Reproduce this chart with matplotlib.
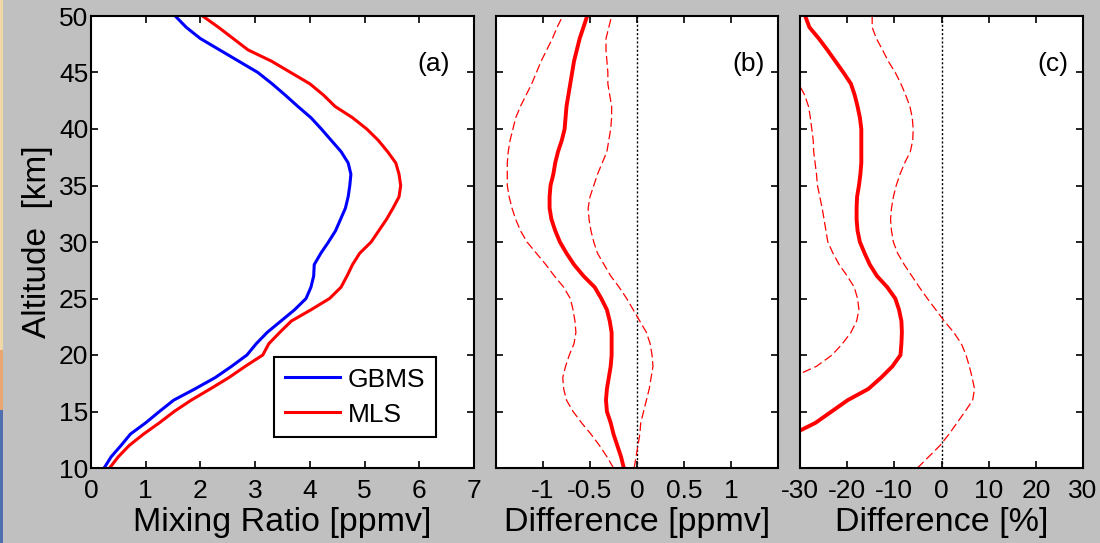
import numpy as np
import matplotlib
matplotlib.use("Agg")
import matplotlib.pyplot as plt
from matplotlib.patches import Rectangle

nan = np.nan
altitude = list(range(10, 51))

gbms = [0.24, 0.37, 0.55, 0.72, 1.00, 1.25, 1.51, 1.90, 2.27, 2.57,
        2.85, 3.02, 3.22, 3.47, 3.72, 3.93, 4.02, 4.07, 4.08, 4.20,
        4.34, 4.47, 4.56, 4.65, 4.70, 4.73, 4.75, 4.70, 4.57, 4.39,
        4.21, 4.02, 3.78, 3.55, 3.31, 3.05, 2.70, 2.35, 2.00, 1.74, 1.54]
mls = [0.34, 0.50, 0.70, 0.96, 1.25, 1.52, 1.83, 2.18, 2.52, 2.82,
       3.14, 3.25, 3.45, 3.66, 4.02, 4.36, 4.57, 4.68, 4.78, 4.91,
       5.12, 5.26, 5.40, 5.52, 5.63, 5.66, 5.63, 5.57, 5.42, 5.25,
       5.04, 4.78, 4.46, 4.25, 4.00, 3.65, 3.30, 2.87, 2.60, 2.33, 2.04]

diff_ppmv = [-0.14, -0.17, -0.21, -0.25, -0.28, -0.32, -0.33, -0.32, -0.30, -0.28,
             -0.27, -0.27, -0.27, -0.29, -0.32, -0.38, -0.45, -0.57, -0.67, -0.75,
             -0.82, -0.87, -0.91, -0.93, -0.93, -0.92, -0.89, -0.87, -0.84, -0.80,
             -0.77, -0.76, -0.75, -0.73, -0.71, -0.69, -0.67, -0.64, -0.61, -0.57, -0.53]
diff_ppmv_lo = [-0.25, -0.32, -0.40, -0.49, -0.59, -0.68, -0.75, -0.78, -0.79, -0.76,
                -0.72, -0.67, -0.65, -0.66, -0.68, -0.71, -0.78, -0.88, -0.97, -1.07,
                -1.17, -1.24, -1.29, -1.33, -1.36, -1.38, -1.38, -1.38, -1.37, -1.35,
                -1.32, -1.29, -1.24, -1.18, -1.12, -1.07, -1.02, -0.96, -0.90, -0.85, -0.79]
diff_ppmv_hi = [-0.03, -0.01, 0.01, 0.03, 0.04, 0.07, 0.10, 0.13, 0.15, 0.17,
                0.16, 0.14, 0.10, 0.03, -0.04, -0.11, -0.19, -0.28, -0.35, -0.42,
                -0.46, -0.49, -0.51, -0.52, -0.50, -0.46, -0.42, -0.37, -0.32, -0.30,
                -0.28, -0.27, -0.27, -0.29, -0.31, -0.31, -0.32, -0.33, -0.33, -0.30, -0.27]

diff_pct = [nan, nan, nan, -31.5, -26.7, -23.3, -19.9, -15.5, -12.8, -10.4,
            -8.7, -8.5, -8.4, -8.5, -9.0, -9.8, -11.5, -13.7, -15.2, -16.3,
            -17.3, -17.8, -18.0, -18.0, -17.9, -17.5, -17.2, -17.0, -17.0, -17.0,
            -17.0, -17.3, -17.8, -18.4, -19.2, -20.8, -22.5, -24.2, -26.0, -28.0, -28.9]
diff_pct_lo = [nan, nan, nan, nan, nan, nan, nan, nan, -31.8, -26.5,
               -23.2, -21.0, -19.2, -18.0, -17.5, -17.8, -18.5, -20.0, -21.7, -23.0,
               -24.1, -24.5, -24.9, -25.3, -25.8, -26.3, -26.5, -26.8, -27.1, -27.2,
               -27.5, -27.8, -28.2, -29.0, -30.3, -32.0, nan, nan, nan, nan, nan]
diff_pct_hi = [-5.1, -2.7, -0.3, 1.6, 3.3, 5.0, 6.6, 7.0, 6.5, 5.9,
               5.2, 4.2, 2.6, 0.6, -1.2, -3.0, -4.7, -6.3, -7.9, -9.3,
               -10.2, -10.6, -10.8, -10.6, -10.2, -9.6, -8.8, -7.8, -6.6, -6.1,
               -6.0, -6.2, -6.7, -7.6, -8.6, -9.8, -11.3, -12.5, -13.8, -14.7, -14.7]

xticks_a = [0, 1, 2, 3, 4, 5, 6, 7]
xticks_b = [-1, -0.5, 0, 0.5, 1]
xticks_c = [-30, -20, -10, 0, 10, 20, 30]
yticks = [10, 15, 20, 25, 30, 35, 40, 45, 50]

plt.rcParams['font.family'] = ['Liberation Sans', 'DejaVu Sans']

W, H = 1100, 543
fig = plt.figure(figsize=(W / 100, H / 100), dpi=100, facecolor='#C0C0C0')

# small colour strip at left edge
fig.patches.append(Rectangle((0, 133 / H), 3 / W, 1 - 133 / H, transform=fig.transFigure,
                             facecolor='#EFD7A8', edgecolor='none'))
fig.patches.append(Rectangle((0, 133 / H), 3 / W, 60 / H, transform=fig.transFigure,
                             facecolor='#E9A673', edgecolor='none'))
fig.patches.append(Rectangle((0, 0), 3 / W, 133 / H, transform=fig.transFigure,
                             facecolor='#4F6FAF', edgecolor='none'))

bottom = 1 - 468 / H
height = 452 / H
ax_a = fig.add_axes([91 / W, bottom, 383 / W, height])
ax_b = fig.add_axes([496 / W, bottom, 282 / W, height])
ax_c = fig.add_axes([800 / W, bottom, 283 / W, height])

TICK_FS = 19
for ax in (ax_a, ax_b, ax_c):
    ax.set_facecolor('white')
    ax.set_ylim(10, 50)
    ax.set_yticks(yticks)
    ax.tick_params(direction='in', top=True, right=True, length=5, width=1.2,
                   labelsize=TICK_FS, colors='black')
    ax.tick_params(axis='x', pad=8)
    ax.tick_params(axis='y', pad=2)
    for s in ax.spines.values():
        s.set_linewidth(1.5)
        s.set_color('black')

# panel (a)
ax_a.plot(gbms, altitude, color='#0000FF', lw=2.2, label='GBMS')
ax_a.plot(mls, altitude, color='#FF0000', lw=2.2, label='MLS')
ax_a.set_xlim(0, 7)
ax_a.set_xticks(xticks_a)
ax_a.set_xticklabels([str(v) for v in xticks_a])
ax_a.set_xlabel('Mixing Ratio [ppmv]', fontsize=24.5, labelpad=3)
ax_a.set_ylabel('Altitude  [km]', fontsize=24, labelpad=4)
leg = ax_a.legend(loc='upper left', bbox_to_anchor=((274 - 91) / 383, (468 - 357) / 452),
                  fontsize=19, fancybox=False, edgecolor='black',
                  framealpha=1, borderpad=0.4, handlelength=2.1, handletextpad=0.3,
                  labelspacing=0.42, borderaxespad=0)
leg.get_frame().set_linewidth(1.5)
ax_a.text(0.895, 0.894, '(a)', transform=ax_a.transAxes, fontsize=19,
          ha='center', va='center')

# panel (b)
ax_b.axvline(0, color='black', lw=1.0, ls=(0, (1.5, 1.5)))
ax_b.plot(diff_ppmv, altitude, color='#FF0000', lw=2.8)
ax_b.plot(diff_ppmv_lo, altitude, color='#FF0000', lw=0.9, ls=(0, (7, 3)))
ax_b.plot(diff_ppmv_hi, altitude, color='#FF0000', lw=0.9, ls=(0, (7, 3)))
ax_b.set_xlim(-1.5, 1.5)
ax_b.set_xticks(xticks_b)
ax_b.set_xticklabels(['-1', '-0.5', '0', '0.5', '1'])
ax_b.set_yticklabels([])
ax_b.set_xlabel('Difference [ppmv]', fontsize=24.5, labelpad=3)
ax_b.text(0.894, 0.894, '(b)', transform=ax_b.transAxes, fontsize=19,
          ha='center', va='center')

# panel (c)
ax_c.axvline(0, color='black', lw=1.0, ls=(0, (1.5, 1.5)))
ax_c.plot(diff_pct, altitude, color='#FF0000', lw=2.8)
ax_c.plot(diff_pct_lo, altitude, color='#FF0000', lw=0.9, ls=(0, (7, 3)))
ax_c.plot(diff_pct_hi, altitude, color='#FF0000', lw=0.9, ls=(0, (7, 3)))
ax_c.set_xlim(-30, 30)
ax_c.set_xticks(xticks_c)
ax_c.set_xticklabels([str(v) for v in xticks_c])
ax_c.set_yticklabels([])
ax_c.set_xlabel('Difference [%]', fontsize=24.5, labelpad=3)
ax_c.text(0.892, 0.894, '(c)', transform=ax_c.transAxes, fontsize=19,
          ha='center', va='center')

fig.savefig('out.png', dpi=100, facecolor=fig.get_facecolor())
